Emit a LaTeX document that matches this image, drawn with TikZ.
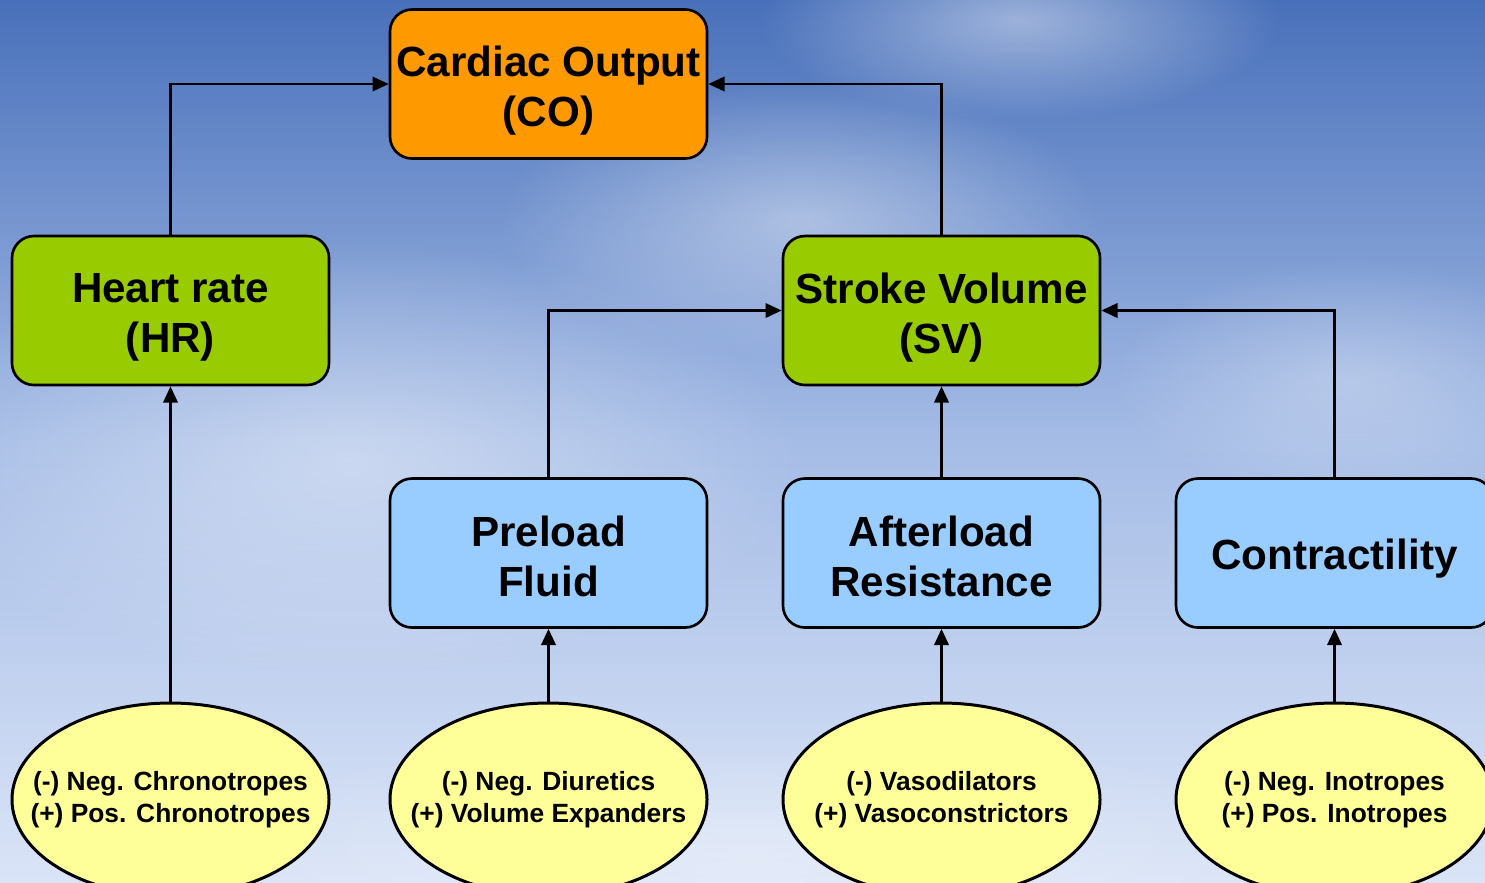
\documentclass[tikz,border=0pt]{standalone}
\usepackage{fontspec}
\setmainfont{Liberation Sans}
\usepackage{xcolor}
\usetikzlibrary{arrows.meta, fadings, shapes.geometric}
\definecolor{coorange}{RGB}{255,153,0}
\definecolor{boxgreen}{RGB}{153,204,0}
\definecolor{boxblue}{RGB}{153,204,255}
\definecolor{ovalyellow}{RGB}{255,255,153}
\definecolor{skytop}{RGB}{72,112,186}
\definecolor{skymid}{RGB}{165,188,230}
\definecolor{skylow}{RGB}{218,228,247}
\tikzfading[name=softglow, inner color=transparent!0, outer color=transparent!100]

\begin{document}
\begin{tikzpicture}[
		>={Triangle[length=4.6pt,width=4.1pt]},
		mainbox/.style={draw, line width=0.75pt, rounded corners=0.22cm, minimum width=3.17cm, minimum height=1.49cm},
		boxtext/.style={align=center, font=\fontsize{12}{14.2}\selectfont\bfseries},
		drugoval/.style={draw, line width=0.85pt, ellipse, fill=ovalyellow, minimum width=3.17cm, minimum height=1.93cm, inner sep=0pt},
		ovaltext/.style={align=center, font=\fontsize{7.5}{9.1}\selectfont\bfseries},
		link/.style={->, line width=0.65pt},
		glow/.style={white, path fading=softglow}
	]
		\useasboundingbox (0,0) rectangle (14.85,-8.82);
		\begin{scope}
			\clip (0,0) rectangle (14.85,-8.82);
			\shade[top color=skytop, bottom color=skylow, middle color=skymid] (0,0) rectangle (14.85,-8.82);
			\fill[glow, opacity=0.45] (10.2,-0.2) ellipse (2.6cm and 1.0cm);
			\fill[glow, opacity=0.40] (8.0,-2.2) ellipse (3.0cm and 1.4cm);
			\fill[glow, opacity=0.40] (3.5,-4.6) ellipse (4.5cm and 2.2cm);
			\fill[glow, opacity=0.30] (13.5,-3.8) ellipse (2.4cm and 1.2cm);
			\fill[glow, opacity=0.30] (7.5,-8.5) ellipse (6.0cm and 1.2cm);
		\end{scope}

		\node[mainbox, fill=coorange] (co) at (5.485,-0.84) {};
		\node[mainbox, fill=boxgreen] (hr) at (1.705,-3.105) {};
		\node[mainbox, fill=boxgreen] (sv) at (9.415,-3.105) {};

		\node[mainbox, fill=boxblue] (pre) at (5.485,-5.53) {};
		\node[mainbox, fill=boxblue] (aft) at (9.415,-5.53) {};
		\node[mainbox, fill=boxblue] (con) at (13.345,-5.53) {};

		\node[boxtext, yshift=-0.07cm] at (co) {Cardiac Output\\(CO)};
		\node[boxtext, yshift=-0.07cm] at (hr) {Heart rate\\(HR)};
		\node[boxtext, yshift=-0.07cm] at (sv) {Stroke Volume\\(SV)};
		\node[boxtext, yshift=-0.03cm] at (pre) {Preload\\Fluid};
		\node[boxtext, yshift=-0.03cm] at (aft) {Afterload\\Resistance};
		\node[boxtext, yshift=-0.06cm] at (con) {Contractility};

		\node[drugoval] (chrono) at (1.705,-7.995) {};
		\node[drugoval] (diur) at (5.485,-7.995) {};
		\node[drugoval] (vaso) at (9.415,-7.995) {};
		\node[drugoval] (ino) at (13.345,-7.995) {};

		\node[ovaltext] at (chrono) {(-) Neg. Chronotropes\\(+) Pos. Chronotropes};
		\node[ovaltext] at (diur) {(-) Neg. Diuretics\\(+) Volume Expanders};
		\node[ovaltext] at (vaso) {(-) Vasodilators\\(+) Vasoconstrictors};
		\node[ovaltext] at (ino) {(-) Neg. Inotropes\\(+) Pos. Inotropes};

		\draw[link] (hr.north) |- (co.west);
		\draw[link] (sv.north) |- (co.east);
		\draw[link] (pre.north) |- (sv.west);
		\draw[link] (aft.north) -- (sv.south);
		\draw[link] (con.north) |- (sv.east);

		\draw[link] (chrono.north) -- (hr.south);
		\draw[link] (diur.north) -- (pre.south);
		\draw[link] (vaso.north) -- (aft.south);
		\draw[link] (ino.north) -- (con.south);
	\end{tikzpicture}
\end{document}
